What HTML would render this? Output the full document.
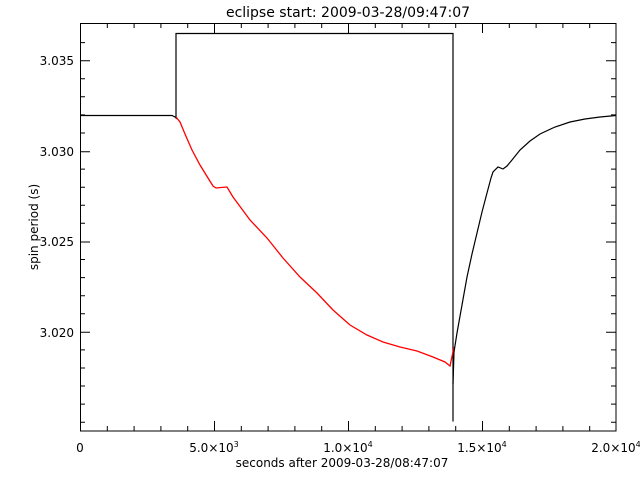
<!DOCTYPE html>
<html><head><style>
html,body{margin:0;padding:0;background:#fff;}
svg{display:block;}
text{font-family:"DejaVu Sans","Liberation Sans",sans-serif;font-size:12px;fill:#000;}
</style></head><body>
<svg width="640" height="480" xmlns="http://www.w3.org/2000/svg">
<rect x="0" y="0" width="640" height="480" fill="#fff"/>
<text x="348" y="17" text-anchor="middle" font-size="14" style="font-size:14px">eclipse start: 2009-03-28/09:47:07</text>
<rect x="80.5" y="23.5" width="535.5" height="407.5" fill="none" stroke="#000" stroke-width="1"/>
<g stroke="#000" stroke-width="1">
<path d="M80.5 431v-10M107.3 431v-5M134.1 431v-5M160.9 431v-5M187.7 431v-5M214.5 431v-10M241.3 431v-5M268.1 431v-5M294.9 431v-5M321.7 431v-5M348.5 431v-10M375.3 431v-5M402.1 431v-5M428.9 431v-5M455.7 431v-5M482.5 431v-10M509.3 431v-5M536.1 431v-5M562.9 431v-5M589.7 431v-5"/>
<path d="M107.3 23v5M134.1 23v5M160.9 23v5M187.7 23v5M214.5 23v10M241.3 23v5M268.1 23v5M294.9 23v5M321.7 23v5M348.5 23v10M375.3 23v5M402.1 23v5M428.9 23v5M455.7 23v5M482.5 23v10M509.3 23v5M536.1 23v5M562.9 23v5M589.7 23v5"/>
<path d="M80 42.6h5M80 60.7h10M80 78.8h5M80 96.8h5M80 114.9h5M80 133h5M80 151.7h10M80 169.1h5M80 187.2h5M80 205.2h5M80 223.3h5M80 242h10M80 259.5h5M80 277.6h5M80 295.7h5M80 313.7h5M80 332.3h10M80 349.9h5M80 368h5M80 386h5M80 404.1h5M80 422.2h5"/>
<path d="M616 42.6h-5M616 60.7h-10M616 78.8h-5M616 96.8h-5M616 114.9h-5M616 133h-5M616 151.7h-10M616 169.1h-5M616 187.2h-5M616 205.2h-5M616 223.3h-5M616 242h-10M616 259.5h-5M616 277.6h-5M616 295.7h-5M616 313.7h-5M616 332.3h-10M616 349.9h-5M616 368h-5M616 386h-5M616 404.1h-5M616 422.2h-5"/>
</g>
<text x="74" y="65" text-anchor="end">3.035</text>
<text x="74" y="156" text-anchor="end">3.030</text>
<text x="74" y="246" text-anchor="end">3.025</text>
<text x="74" y="337" text-anchor="end">3.020</text>
<text x="80" y="452" text-anchor="middle">0</text>
<text x="214" y="452" text-anchor="middle">5.0×10<tspan dy="-5" style="font-size:8px">3</tspan></text>
<text x="348" y="452" text-anchor="middle">1.0×10<tspan dy="-5" style="font-size:8px">4</tspan></text>
<text x="482" y="452" text-anchor="middle">1.5×10<tspan dy="-5" style="font-size:8px">4</tspan></text>
<text x="616" y="452" text-anchor="middle">2.0×10<tspan dy="-5" style="font-size:8px">4</tspan></text>
<text x="342" y="467" text-anchor="middle">seconds after 2009-03-28/08:47:07</text>
<text transform="translate(38 227) rotate(-90)" text-anchor="middle">spin period (s)</text>
<polyline fill="none" stroke="#000" stroke-width="1.2" points="80,115.5 172,115.5 175,117 176,118 176,33.5 453,33.5 453,421.5"/>
<polyline fill="none" stroke="#f00" stroke-width="1.3" points="176,117 180,122 185,134 192,150 200,165 208,178 213,186 216,188 221,187.5 227,187 233,197 250,220 267,238 283,258 300,277 317,293 333,310 350,325 367,335 383,342 400,347 417,351 433,357 445,362 450,366 454,347"/>
<polyline fill="none" stroke="#000" stroke-width="1.2" points="453,384 454,352 457,333 462,305 467,277 472,254 477,233 482,212 487,193 491,178 493,172 498,167 503,169 507,166 512,160 520,150 530,141 540,134 555,127 570,122 585,119 600,117 616,115.5"/>
</svg>
</body></html>
